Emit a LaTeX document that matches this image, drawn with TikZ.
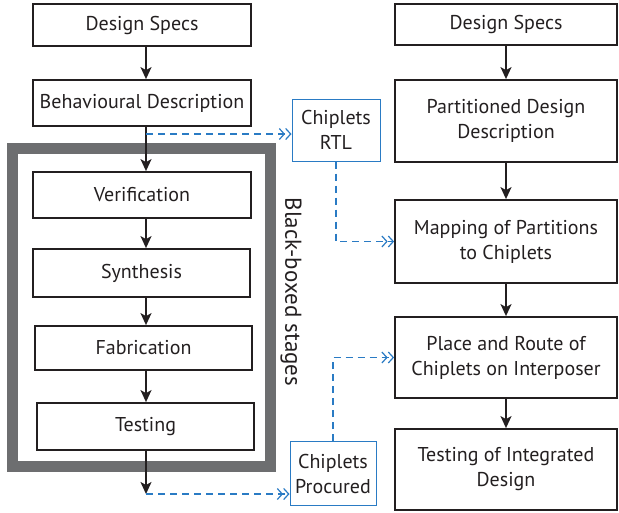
\documentclass[tikz,border=0pt]{standalone}
\usepackage{fontspec}
\setmainfont{PT Sans}
\usetikzlibrary{arrows.meta,calc}
\definecolor{cblue}{HTML}{2A7BC4}
\definecolor{fgray}{HTML}{6D6E70}
\definecolor{txt}{HTML}{231F20}
\begin{document}
\begin{tikzpicture}[x=1pt,y=-1pt,
  font=\fontsize{20}{25}\selectfont, text=txt,
  stepbox/.style={draw=txt,line width=1.8pt,inner sep=0pt,align=center},
  bluebox/.style={draw=cblue,line width=1pt,inner sep=0pt,align=center},
  flow/.style={draw=txt,line width=1.6pt,-{Stealth[length=12pt,width=11pt,inset=3pt]}},
  feed/.style={draw=cblue,line width=1.3pt,dash pattern=on 7pt off 5pt,
     -{Straight Barb[length=5pt,width=11pt,line width=1.2pt]Straight Barb[length=5pt,width=11pt,line width=1.2pt]}}
]
\useasboundingbox (0,0) rectangle (619,512);
% black-box frame
\draw[fgray,line width=11pt] (12.5,148.5) rectangle (270.5,466);
\node[rotate=-90,font=\fontsize{23}{26}\selectfont] (bbs) at (291,292) {Black-boxed stages};
% left column
\node[stepbox,minimum width=218pt,minimum height=42pt] (ds1) at (142,25) {Design Specs};
\node[stepbox,minimum width=218pt,minimum height=46pt] (bd) at (142,103) {Behavioural Description};
\node[stepbox,minimum width=218pt,minimum height=46pt] (ver) at (142,195) {Verification};
\node[stepbox,minimum width=217pt,minimum height=48pt] (syn) at (141.5,273) {Synthesis};
\node[stepbox,minimum width=217pt,minimum height=44pt] (fab) at (143.5,348) {Fabrication};
\node[stepbox,minimum width=217pt,minimum height=47pt] (tst) at (145.5,426.5) {Testing};
\coordinate (tend) at (146,494);
\coordinate (bdbr) at (146,134);
% blue boxes
\node[bluebox,minimum width=88pt,minimum height=62pt] (rtl) at (336,130) {Chiplets\\RTL};
\node[bluebox,minimum width=86pt,minimum height=64pt] (proc) at (333,473.5) {Chiplets\\Procured};
% right column
\node[stepbox,minimum width=222pt,minimum height=41pt] (ds2) at (506,24.5) {Design Specs};
\node[stepbox,minimum width=222pt,minimum height=82pt] (pdd) at (506,121) {Partitioned Design\\Description};
\node[stepbox,minimum width=222pt,minimum height=83pt] (map) at (506,241.5) {Mapping of Partitions\\to Chiplets};
\node[stepbox,minimum width=222pt,minimum height=81pt] (par) at (506,357.5) {Place and Route of\\Chiplets on Interposer};
\node[stepbox,minimum width=222pt,minimum height=81pt] (tid) at (506,469.5) {Testing of Integrated\\Design};
% black arrows
\path[flow] (ds1.south -| 146,0) -- (bd.north -| 146,0);
\path[flow] (bd.south -| 146,0) -- (ver.north -| 146,0);
\path[flow] (ver.south -| 146,0) -- (syn.north -| 146,0);
\path[flow] (syn.south -| 146,0) -- (fab.north -| 146,0);
\path[flow] (fab.south -| 146,0) -- (tst.north -| 146,0);
\path[flow] (tst.south -| tend) -- (tend);
\path[flow] (ds2) -- (pdd);
\path[flow] (pdd) -- (map);
\path[flow] (map) -- (par);
\path[flow] (par) -- (tid);
% blue dashed
\path[feed] (bdbr) -- (bdbr -| rtl.west);
\path[feed] (rtl.south) |- (map.west);
\path[feed] (tend) -- (tend -| proc.west);
\path[feed] (proc.north) |- (par.west);
\end{tikzpicture}
\end{document}
